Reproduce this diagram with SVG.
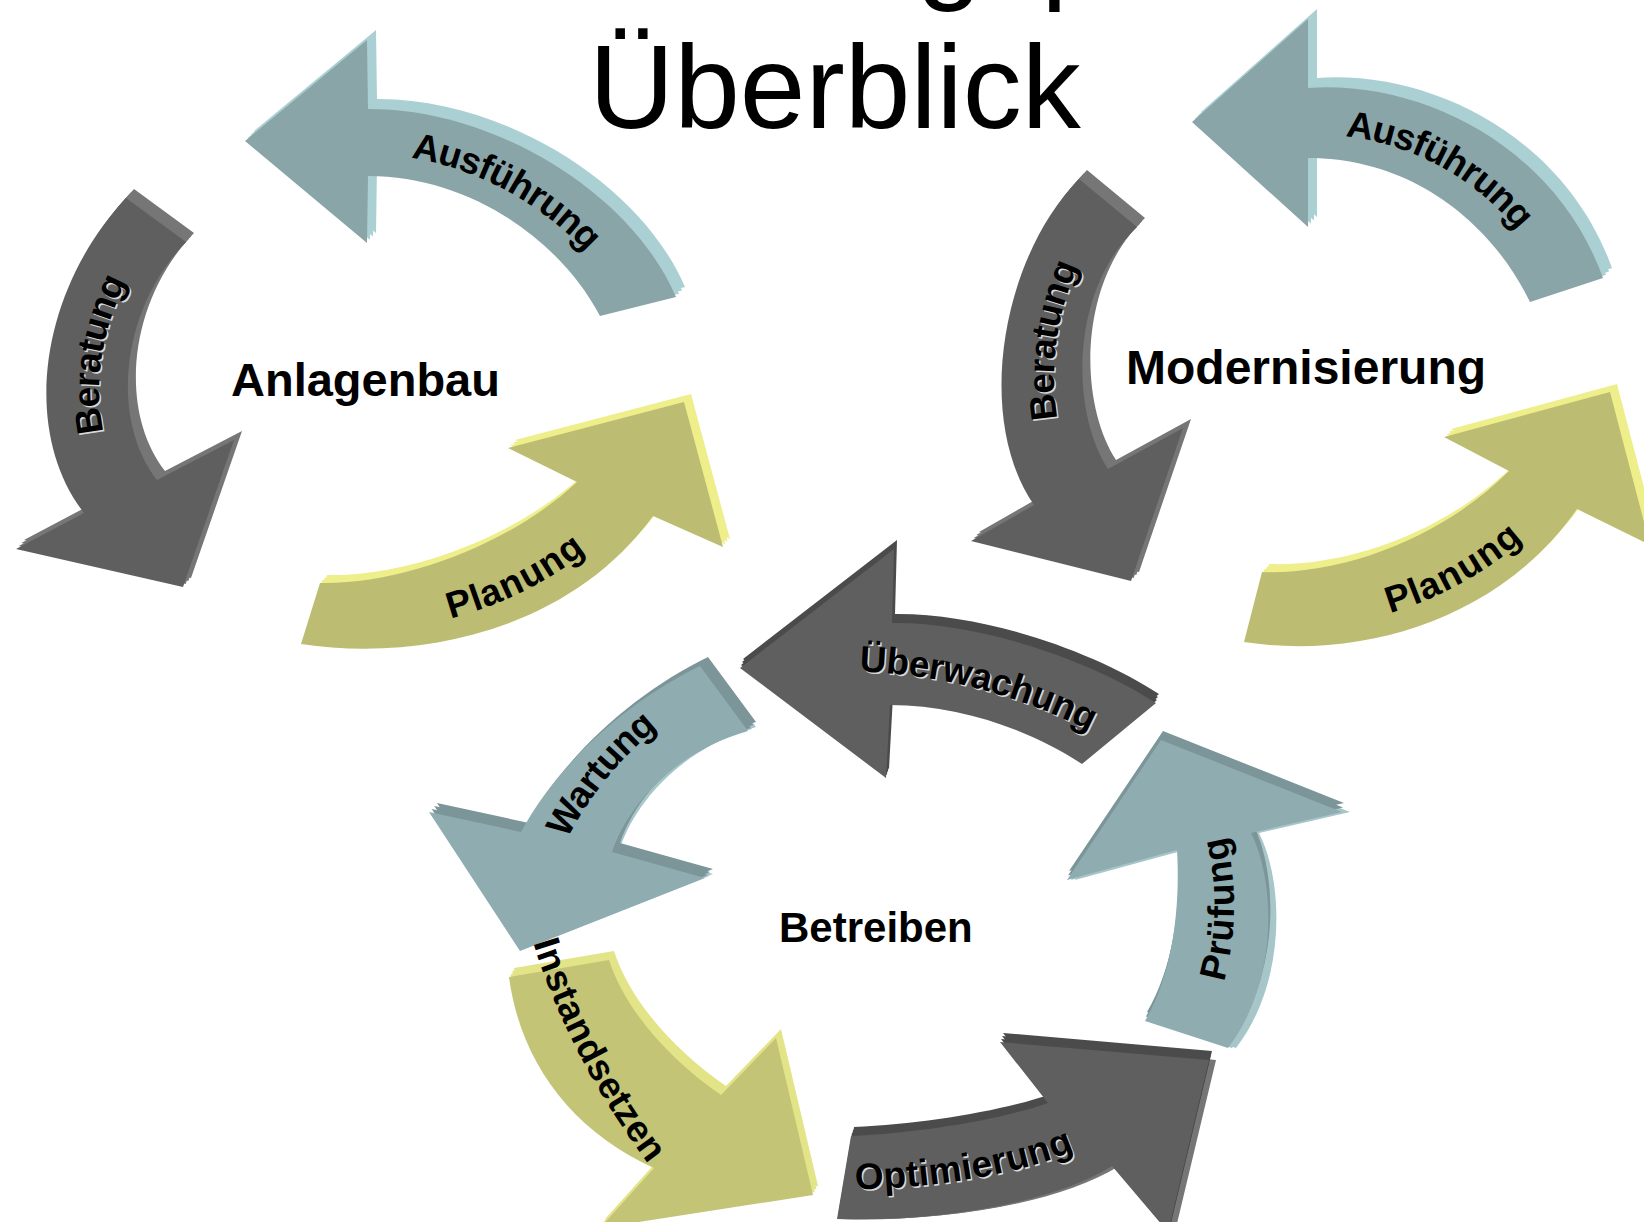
<svg xmlns="http://www.w3.org/2000/svg" width="1644" height="1222" viewBox="0 0 1644 1222">
<style>
.title{font-family:"Liberation Sans",Arial,sans-serif;font-size:118px;fill:#000}
.hub{font-family:"Liberation Sans",Arial,sans-serif;font-weight:bold;fill:#000}
.lbl{font-family:"Liberation Sans",Arial,sans-serif;font-weight:bold;font-size:37px;fill:#000}
.sh{fill:#d9d9d9}
.teal{fill:#8aa5a8}.tealB{fill:#abd0d4}
.teal2{fill:#8fadb0}.teal2D{fill:#7b9598}.teal2L{fill:#a7c6c9}
.grey{fill:#5f5f5f}.greyL{fill:#767676}.greyD{fill:#4b4b4b}
.olive{fill:#bcbc72}.oliveB{fill:#eeee8a}
.olive2{fill:#c4c476}.olive2B{fill:#e3e388}
</style>
<defs>
<path id="sA1" d="M368,109 C490,108 630,190 676,297 L600,316 C560,240 470,176 368,176 L367,243 L245,141 L367,40 Z"/>
<path id="sA2" d="M126,198 C40,290 20,430 84,513 L16,549 L183,587 L234,440 L157,480 C110,420 120,310 186,242 Z"/>
<path id="sA3" d="M301,644 C420,662 570,630 653,516 L723,547 L684,402 L508,448 L577,482 C510,545 400,585 320,583 Z"/>
<path id="sB1" d="M1308,88 C1420,80 1555,145 1603,278 L1530,302 C1490,220 1410,158 1308,158 L1308,227 L1192,122 L1308,19 Z"/>
<path id="sB2" d="M1079,179 C1000,260 975,420 1034,505 L971,541 L1131,581 L1183,428 L1108,469 C1070,410 1070,290 1137,227 Z"/>
<path id="sB3" d="M1244,642 C1360,660 1500,620 1577,509 L1650,545 L1610,392 L1444,437 L1509,471 C1440,540 1340,575 1262,572 Z"/>
<path id="sC1" d="M892,623 C980,622 1090,660 1156,703 L1082,764 C1030,730 960,705 890,705 L886,778 L740,668 L894,549 Z"/>
<path id="sC2" d="M700,666 C630,700 560,760 521,832 L429,812 L520,951 L705,878 L612,852 C630,800 680,750 748,731 Z"/>
<path id="sC3" d="M509,977 C520,1060 570,1130 654,1168 L600,1228 L813,1195 L776,1038 L721,1095 C670,1060 625,1010 609,960 Z"/>
<path id="sC4" d="M851,1136 C920,1133 1000,1120 1048,1103 L1000,1042 L1209,1060 L1168,1232 L1112,1166 C1050,1205 930,1222 837,1219 Z"/>
<path id="sC5" d="M1145,1021 C1175,970 1180,900 1177,850 L1067,880 L1161,740 L1342,812 L1251,833 C1275,880 1280,980 1228,1048 Z"/>
<path id="tA1" d="M370,142.5 C480,142 595,215 638,306.5"/>
<path id="tA2" d="M120.5,496.5 C65,425 80,300 156,220"/>
<path id="tA3" d="M310.5,613.5 C410,623.5 540,587.5 615,499"/>
<path id="tB1" d="M1308,123 C1415,119 1522.5,182.5 1566.5,290"/>
<path id="tB2" d="M1071,487 C1022.5,415 1035,275 1108,203"/>
<path id="tB3" d="M1253,607 C1350,617.5 1470,580 1543,490"/>
<path id="tC1" d="M820,660 C930,655 1040,685 1130,740"/>
<path id="tC2" d="M545,858 C570,800 610,745 672,702"/>
<path id="tC3" d="M535,905 Q572,1052 680,1185"/>
<path id="tC4" d="M844,1177.5 C925,1177.5 1025,1162.5 1080,1134.5"/>
<path id="tC5" d="M1186.5,1033.5 C1227.5,975 1227.5,890 1214,839.5"/>
</defs>
<rect width="1644" height="1222" fill="#ffffff"/>

<g id="title">
<text class="title" x="241" y="-13">Dienstleistungsportfolio</text>
<text class="title" x="589" y="128">Überblick</text>
</g>

<g id="cluster-anlagenbau">
<g id="anlagenbau"><text class="hub" x="231" y="396" font-size="47">Anlagenbau</text></g>
<g id="anl-ausfuehrung">
<use href="#sA1" class="tealB" transform="translate(3,-3.3)"/><use href="#sA1" class="tealB" transform="translate(6,-6.6)"/><use href="#sA1" class="tealB" transform="translate(9,-10)"/>
<use href="#sA1" class="teal"/>
<text class="lbl" text-anchor="middle"><textPath href="#tA1" startOffset="45%"><tspan dy="12">Ausführung</tspan></textPath></text>
</g>
<g id="anl-beratung">
<use href="#sA2" class="greyL" transform="translate(2.7,-3)"/><use href="#sA2" class="greyL" transform="translate(5.3,-6)"/><use href="#sA2" class="greyL" transform="translate(8,-9)"/>
<use href="#sA2" class="grey"/>
<text class="lbl sh" text-anchor="middle" transform="translate(1.5,1.5)"><textPath href="#tA2" startOffset="50%"><tspan dy="12">Beratung</tspan></textPath></text>
<text class="lbl" text-anchor="middle"><textPath href="#tA2" startOffset="50%"><tspan dy="12">Beratung</tspan></textPath></text>
</g>
<g id="anl-planung">
<use href="#sA3" class="oliveB" transform="translate(2.3,-2.7)"/><use href="#sA3" class="oliveB" transform="translate(4.7,-5.3)"/><use href="#sA3" class="oliveB" transform="translate(7,-8)"/>
<use href="#sA3" class="olive"/>
<text class="lbl" text-anchor="middle"><textPath href="#tA3" startOffset="62%"><tspan dy="18">Planung</tspan></textPath></text>
</g>
</g>

<g id="cluster-modernisierung">
<g id="modernisierung"><text class="hub" x="1126" y="384" font-size="48">Modernisierung</text></g>
<g id="mod-ausfuehrung">
<use href="#sB1" class="tealB" transform="translate(3,-3.3)"/><use href="#sB1" class="tealB" transform="translate(6,-6.6)"/><use href="#sB1" class="tealB" transform="translate(9,-10)"/>
<use href="#sB1" class="teal"/>
<text class="lbl" text-anchor="middle"><textPath href="#tB1" startOffset="44%"><tspan dy="12">Ausführung</tspan></textPath></text>
</g>
<g id="mod-beratung">
<use href="#sB2" class="greyL" transform="translate(2.7,-3)"/><use href="#sB2" class="greyL" transform="translate(5.3,-6)"/><use href="#sB2" class="greyL" transform="translate(8,-9)"/>
<use href="#sB2" class="grey"/>
<text class="lbl sh" text-anchor="middle" transform="translate(1.5,1.5)"><textPath href="#tB2" startOffset="50%"><tspan dy="12">Beratung</tspan></textPath></text>
<text class="lbl" text-anchor="middle"><textPath href="#tB2" startOffset="50%"><tspan dy="12">Beratung</tspan></textPath></text>
</g>
<g id="mod-planung">
<use href="#sB3" class="oliveB" transform="translate(2.3,-2.7)"/><use href="#sB3" class="oliveB" transform="translate(4.7,-5.3)"/><use href="#sB3" class="oliveB" transform="translate(7,-8)"/>
<use href="#sB3" class="olive"/>
<text class="lbl" text-anchor="middle"><textPath href="#tB3" startOffset="63%"><tspan dy="20">Planung</tspan></textPath></text>
</g>
</g>

<g id="cluster-betreiben">
<g id="betreiben"><text class="hub" x="779" y="942" font-size="42">Betreiben</text></g>
<g id="bet-ueberwachung">
<use href="#sC1" class="greyD" transform="translate(1,-3)"/><use href="#sC1" class="greyD" transform="translate(2,-6)"/><use href="#sC1" class="greyD" transform="translate(3,-9)"/>
<use href="#sC1" class="grey"/>
<text class="lbl sh" text-anchor="middle" transform="translate(1.5,1.5)"><textPath href="#tC1" startOffset="50%"><tspan dy="12">Überwachung</tspan></textPath></text>
<text class="lbl" text-anchor="middle"><textPath href="#tC1" startOffset="50%"><tspan dy="12">Überwachung</tspan></textPath></text>
</g>
<g id="bet-wartung">
<use href="#sC2" class="teal2L" transform="translate(4,-2)"/><use href="#sC2" class="teal2L" transform="translate(8,-4)"/>
<use href="#sC2" class="teal2D" transform="translate(2.7,-3)"/><use href="#sC2" class="teal2D" transform="translate(5.3,-6)"/><use href="#sC2" class="teal2D" transform="translate(8,-9)"/>
<use href="#sC2" class="teal2"/>
<text class="lbl" text-anchor="middle"><textPath href="#tC2" startOffset="50%"><tspan dy="12">Wartung</tspan></textPath></text>
</g>
<g id="bet-instandsetzen">
<use href="#sC3" class="olive2B" transform="translate(1.7,-3)"/><use href="#sC3" class="olive2B" transform="translate(3.3,-6)"/><use href="#sC3" class="olive2B" transform="translate(5,-9)"/>
<use href="#sC3" class="olive2"/>
<text class="lbl" text-anchor="middle"><textPath href="#tC3" startOffset="50%"><tspan dy="12">Instandsetzen</tspan></textPath></text>
</g>
<g id="bet-optimierung">
<use href="#sC4" class="greyL" transform="translate(4,0)"/><use href="#sC4" class="greyL" transform="translate(7,0)"/>
<use href="#sC4" class="greyD" transform="translate(1,-3)"/><use href="#sC4" class="greyD" transform="translate(2,-6)"/><use href="#sC4" class="greyD" transform="translate(3,-9)"/>
<use href="#sC4" class="grey"/>
<text class="lbl sh" text-anchor="middle" transform="translate(1.5,1.5)"><textPath href="#tC4" startOffset="50%"><tspan dy="12">Optimierung</tspan></textPath></text>
<text class="lbl" text-anchor="middle"><textPath href="#tC4" startOffset="50%"><tspan dy="12">Optimierung</tspan></textPath></text>
</g>
<g id="bet-pruefung">
<use href="#sC5" class="teal2L" transform="translate(4,0)"/><use href="#sC5" class="teal2L" transform="translate(8,0)"/>
<use href="#sC5" class="teal2D" transform="translate(1,-4.5)"/><use href="#sC5" class="teal2D" transform="translate(2,-9)"/>
<use href="#sC5" class="teal2"/>
<text class="lbl" text-anchor="middle"><textPath href="#tC5" startOffset="65%"><tspan dy="12">Prüfung</tspan></textPath></text>
</g>
</g>

<g id="connectors"/>
</svg>
